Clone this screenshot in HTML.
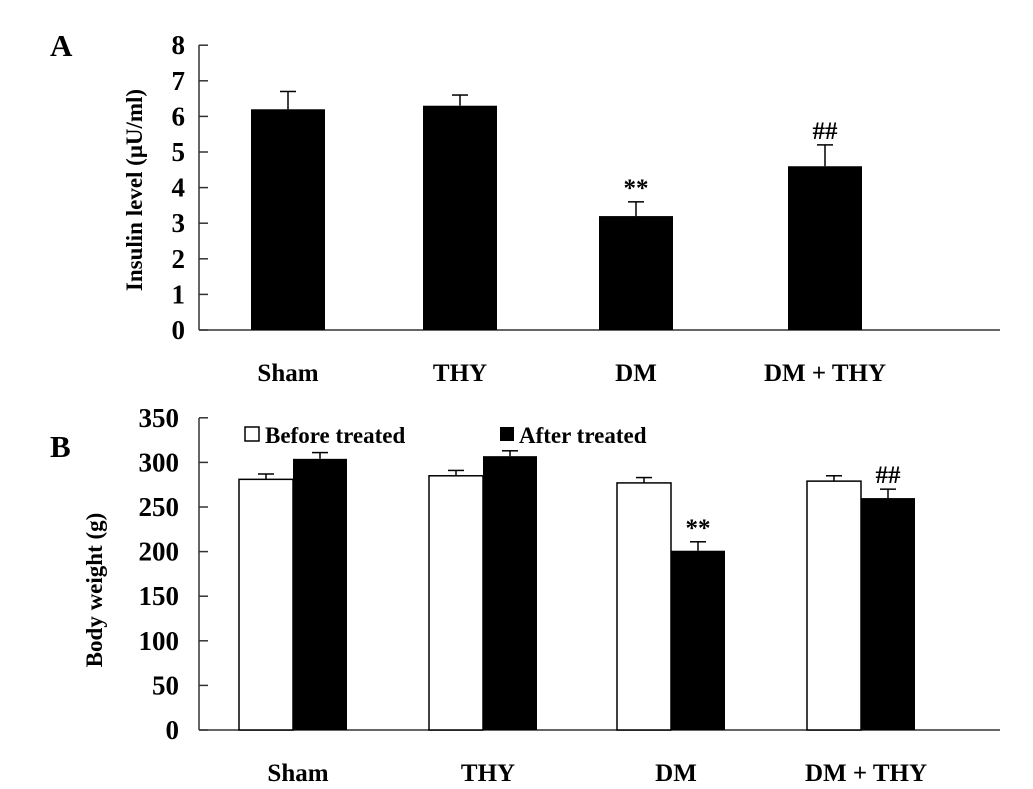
<!DOCTYPE html>
<html><head><meta charset="utf-8"><style>
body{margin:0;background:#fff;}
svg{display:block;font-family:"Liberation Serif",serif;font-weight:bold;}
</style></head><body>
<svg id="s" width="1033" height="789">
<text x="50" y="56" font-size="31">A</text>
<text x="50" y="457" font-size="31">B</text>
<text transform="translate(142,190) rotate(-90)" text-anchor="middle" font-size="23">Insulin level (μU/ml)</text>
<text transform="translate(102,590) rotate(-90)" text-anchor="middle" font-size="23">Body weight (g)</text>
<g id="ga"></g><g id="gb"></g>
<rect x="245" y="427" width="14" height="14" fill="#fff" stroke="#000" stroke-width="1.5"/>
<text x="265" y="443" font-size="23">Before treated</text>
<rect x="500" y="427" width="14" height="14" fill="#000"/>
<text x="519" y="443" font-size="23">After treated</text>
</svg>
<script>
const categories=["Sham","THY","DM","DM + THY"];
const insulin=[6.2,6.3,3.2,4.6];
const insulinErr=[0.5,0.3,0.4,0.6];
const insulinMarks=["","","**","##"];
const yTicksA=[0,1,2,3,4,5,6,7,8];
const before=[281,285,277,279];
const beforeErr=[6,6,6,6];
const after=[304,307,201,260];
const afterErr=[7,6,10,10];
const afterMarks=["","","**","##"];
const yTicksB=[0,50,100,150,200,250,300,350];

const NS="http://www.w3.org/2000/svg";
function mk(p,t,a,txt){const e=document.createElementNS(NS,t);for(const k in a)e.setAttribute(k,a[k]);if(txt!==undefined)e.textContent=txt;p.appendChild(e);return e;}
// Panel A
const ga=document.getElementById('ga');
const yA=v=>330-v*35.6;
const cxA=[288,460,636,825];
mk(ga,'line',{x1:199,y1:45,x2:199,y2:330,stroke:'#333','stroke-width':1.5});
mk(ga,'line',{x1:199,y1:330,x2:1000,y2:330,stroke:'#333','stroke-width':1.5});
yTicksA.forEach(v=>{
 const t=mk(ga,'line',{x1:199,y1:yA(v),x2:208,y2:yA(v),stroke:'#333','stroke-width':1.5});
 
 const l=mk(ga,'text',{x:185,y:yA(v)+9,'text-anchor':'end','font-size':27},v);
 
});
categories.forEach((c,i)=>{
 const x=cxA[i];
 const b=mk(ga,'rect',{x:x-37,y:yA(insulin[i]),width:74,height:yA(0)-yA(insulin[i]),fill:'#000'});
 
 const te=yA(insulin[i]+insulinErr[i]);
 mk(ga,'line',{x1:x,y1:yA(insulin[i]),x2:x,y2:te,stroke:'#000','stroke-width':1.5});
 mk(ga,'line',{x1:x-8,y1:te,x2:x+8,y2:te,stroke:'#000','stroke-width':1.5});
 if(insulinMarks[i]){const m=mk(ga,'text',{x:x,y:te-6,'text-anchor':'middle','font-size':25},insulinMarks[i]);
  }
 const l=mk(ga,'text',{x:x,y:381,'text-anchor':'middle','font-size':25},c);
 
});
// Panel B
const gb=document.getElementById('gb');
const yB=v=>730-v*0.892;
const cxB=[293,483,671,861];
mk(gb,'line',{x1:199,y1:418,x2:199,y2:730,stroke:'#333','stroke-width':1.5});
mk(gb,'line',{x1:199,y1:730,x2:1000,y2:730,stroke:'#333','stroke-width':1.5});
yTicksB.forEach(v=>{
 const t=mk(gb,'line',{x1:199,y1:yB(v),x2:208,y2:yB(v),stroke:'#333','stroke-width':1.5});
 
 const l=mk(gb,'text',{x:179,y:yB(v)+9,'text-anchor':'end','font-size':27},v);
 
});
function err(g,x,v,e){const t=yB(v+e);mk(g,'line',{x1:x,y1:yB(v),x2:x,y2:t,stroke:'#000','stroke-width':1.5});mk(g,'line',{x1:x-8,y1:t,x2:x+8,y2:t,stroke:'#000','stroke-width':1.5});return t;}
categories.forEach((c,i)=>{
 const x=cxB[i];
 const b1=mk(gb,'rect',{x:x-54,y:yB(before[i]),width:54,height:yB(0)-yB(before[i]),fill:'#fff',stroke:'#000','stroke-width':1.5});
 
 err(gb,x-27,before[i],beforeErr[i]);
 const b2=mk(gb,'rect',{x:x,y:yB(after[i]),width:54,height:yB(0)-yB(after[i]),fill:'#000'});
 
 const t=err(gb,x+27,after[i],afterErr[i]);
 if(afterMarks[i]){const m=mk(gb,'text',{x:x+27,y:t-6,'text-anchor':'middle','font-size':25},afterMarks[i]);
  }
 const l=mk(gb,'text',{x:x+5,y:781,'text-anchor':'middle','font-size':25},c);
 
});
</script>
</body></html>
